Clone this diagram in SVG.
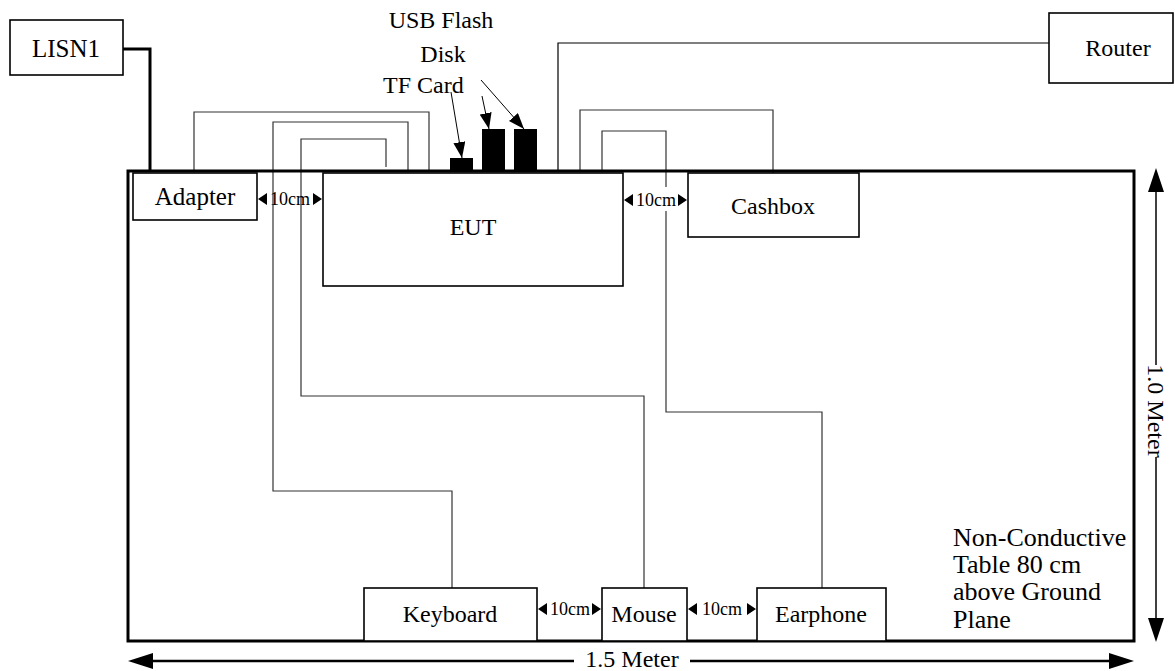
<svg xmlns="http://www.w3.org/2000/svg" width="1175" height="671" viewBox="0 0 1175 671">
<style>
  text { font-family: "Liberation Serif", "Times New Roman", serif; fill: #000; }
  .lbl { font-size: 24px; text-anchor: middle; }
  .sm { font-size: 18px; text-anchor: middle; }
  .note { font-size: 26px; }
  .box { fill: #fff; stroke: #000; stroke-width: 1.6; }
  .cable { fill: none; stroke: #333; stroke-width: 1.2; }
  .thick { fill: none; stroke: #000; stroke-width: 3; }
  .dim { stroke: #000; stroke-width: 2.5; fill: none; }
  .tri { fill: #000; stroke: none; }
</style>
<defs>
  <marker id="ah" viewBox="0 0 16 12" refX="16" refY="6" markerWidth="16" markerHeight="12" markerUnits="userSpaceOnUse" orient="auto">
    <path d="M0,0 L16,6 L0,12 Z" fill="#000"/>
  </marker>
</defs>

<g id="connectors">
  <path class="thick" d="M123,49 H150 V171"/>
  <path class="cable" d="M194,171 V112 H429 V171"/>
  <path class="cable" d="M408,171 V122 H273 V491 H452 V588"/>
  <path class="cable" d="M386,167 V139 H301 V396 H644 V588"/>
  <path class="cable" d="M1049,43 H558 V171" style="stroke:#000"/>
  <path class="cable" d="M580,171 V110 H773 V173"/>
  <path class="cable" d="M602,171 V131 H666 V412 H822 V588"/>
  <line x1="451" y1="92" x2="462" y2="158" stroke="#000" stroke-width="1" marker-end="url(#ah)"/>
  <line x1="482" y1="96" x2="489" y2="129" stroke="#000" stroke-width="1" marker-end="url(#ah)"/>
  <line x1="481" y1="80" x2="524" y2="129" stroke="#000" stroke-width="1" marker-end="url(#ah)"/>
</g>

<g id="table">
  <rect x="128" y="171" width="1006" height="470" fill="none" stroke="#000" stroke-width="3"/>
</g>

<g id="tfcard"><rect x="450" y="158" width="23" height="13" class="tri"/></g>
<g id="usb1"><rect x="482" y="129" width="23" height="42" class="tri"/></g>
<g id="usb2"><rect x="514" y="129" width="23" height="42" class="tri"/></g>

<g id="lisn1">
  <rect class="box" x="10" y="20" width="113" height="55"/>
  <text class="lbl" x="66" y="57" style="font-size:25px">LISN1</text>
</g>
<g id="router">
  <rect class="box" x="1049" y="13" width="124" height="70"/>
  <text class="lbl" x="1118" y="56">Router</text>
</g>
<g id="adapter">
  <rect class="box" x="133" y="173" width="124" height="47"/>
  <text class="lbl" x="195" y="205" style="font-size:25px">Adapter</text>
</g>
<g id="eut">
  <rect class="box" x="323" y="173" width="300" height="113"/>
  <text class="lbl" x="473" y="235">EUT</text>
</g>
<g id="cashbox">
  <rect class="box" x="688" y="173" width="171" height="64"/>
  <text class="lbl" x="773" y="214">Cashbox</text>
</g>
<g id="keyboard">
  <rect class="box" x="364" y="588" width="173" height="53"/>
  <text class="lbl" x="450" y="622">Keyboard</text>
</g>
<g id="mouse">
  <rect class="box" x="602" y="588" width="85" height="53"/>
  <text class="lbl" x="644" y="622">Mouse</text>
</g>
<g id="earphone">
  <rect class="box" x="757" y="588" width="129" height="53"/>
  <text class="lbl" x="821" y="622">Earphone</text>
</g>

<g id="labels">
  <text class="lbl" x="441" y="28">USB Flash</text>
  <text class="lbl" x="443" y="62">Disk</text>
  <text x="383" y="93" style="font-size:24px">TF Card</text>
  <text class="note" x="953" y="546">Non-Conductive</text>
  <text class="note" x="953" y="573">Table 80 cm</text>
  <text class="note" x="953" y="600">above Ground</text>
  <text class="note" x="953" y="628">Plane</text>
</g>

<g id="spacings">
  <path class="tri" d="M258,199 l9,-6 v12 Z M322,199 l-9,-6 v12 Z"/>
  <text class="sm" x="290" y="205">10cm</text>
  <rect x="633" y="187" width="46" height="24" fill="#fff"/>
  <path class="tri" d="M624,200 l9,-6 v12 Z M687,200 l-9,-6 v12 Z"/>
  <text class="sm" x="656" y="206">10cm</text>
  <path class="tri" d="M538,609 l9,-6 v12 Z M601,609 l-9,-6 v12 Z"/>
  <text class="sm" x="570" y="615">10cm</text>
  <path class="tri" d="M688,609 l9,-6 v12 Z M756,609 l-9,-6 v12 Z"/>
  <text class="sm" x="722" y="615">10cm</text>
</g>

<g id="dimensions">
  <line class="dim" x1="150" y1="661" x2="1110" y2="661"/>
  <path class="tri" d="M128,661 l25,-8 v16 Z M1134,661 l-25,-8 v16 Z"/>
  <rect x="574" y="649" width="116" height="22" fill="#fff"/>
  <text class="lbl" x="632" y="667">1.5 Meter</text>
  <line x1="1156" y1="190" x2="1156" y2="620" stroke="#000" stroke-width="1.5"/>
  <path class="tri" d="M1156,168 l-8,24 h16 Z M1156,642 l-8,-24 h16 Z"/>
  <rect x="1145" y="365" width="22" height="92" fill="#fff"/>
  <text class="lbl" transform="translate(1148,411) rotate(90)">1.0 Meter</text>
</g>
</svg>
